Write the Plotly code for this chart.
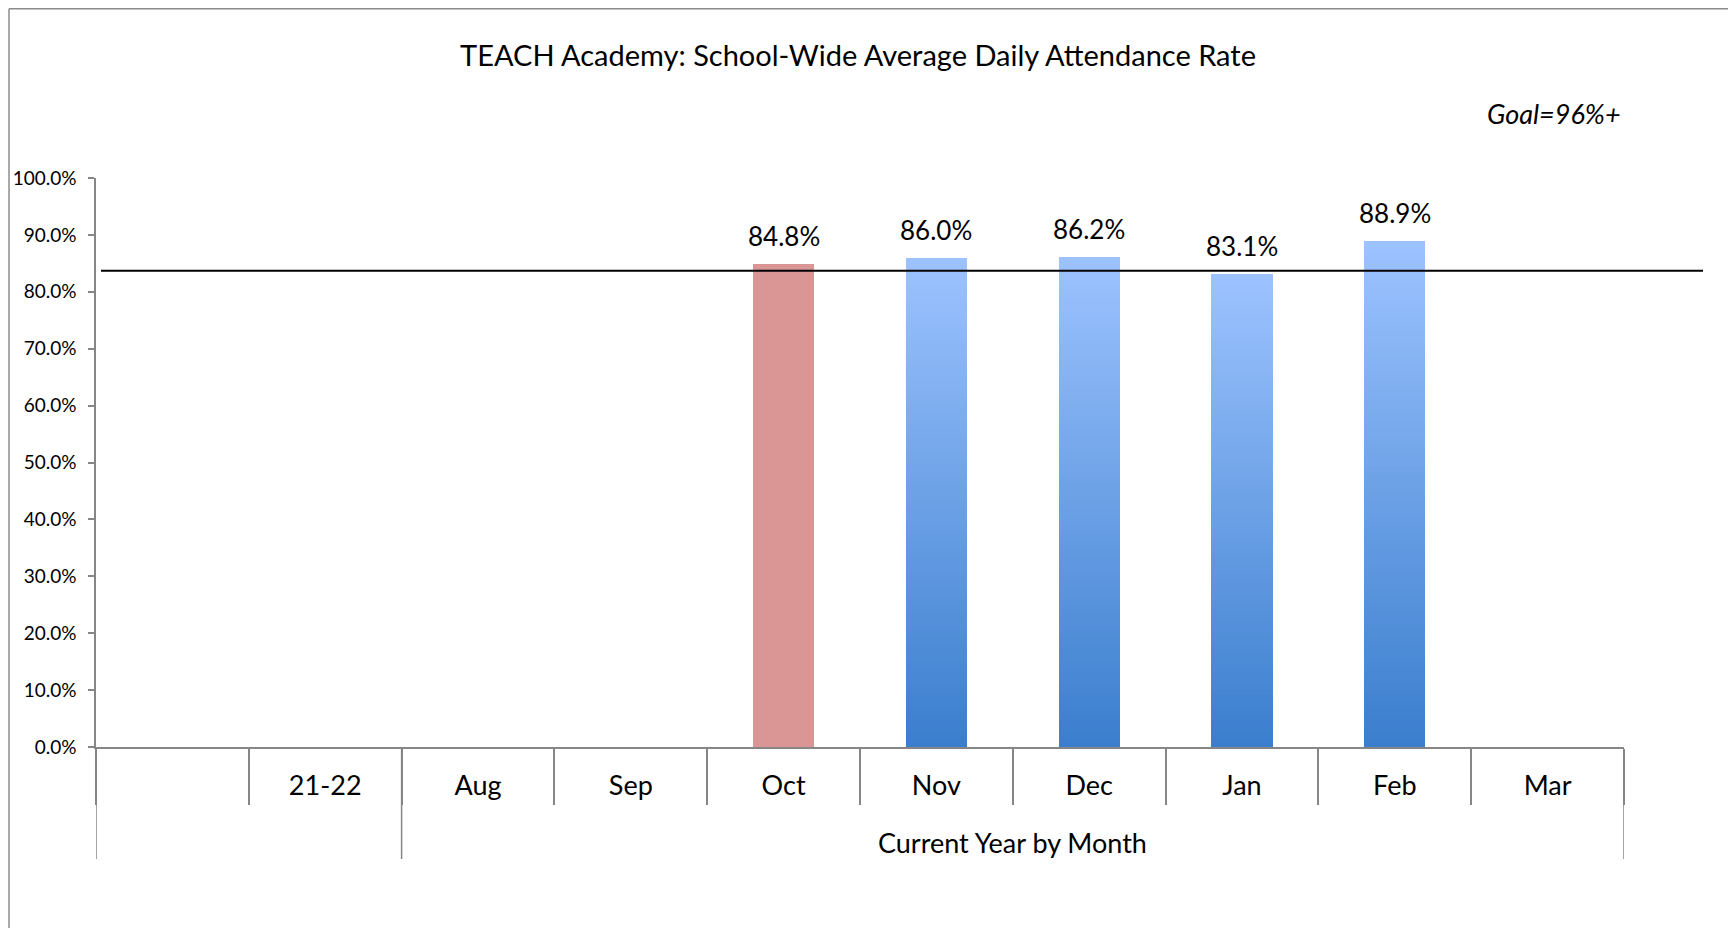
import plotly.graph_objects as go

# ---------------- data ----------------
categories = [" ", "21-22", "Aug", "Sep", "Oct", "Nov", "Dec", "Jan", "Feb", "Mar"]
attendance = [None, None, None, None, 84.8, 86.0, 86.2, 83.1, 88.9, None]
highlight = ["Oct"]
group_labels = ["", "Current Year by Month"]
group_spans = [(0, 1), (2, 9)]          # first / last category index of each group
reference_line = 83.7
y_ticks = [0, 10, 20, 30, 40, 50, 60, 70, 80, 90, 100]
title_text = "TEACH Academy: School-Wide Average Daily Attendance Rate"
goal_text = "Goal=96%+"

# ---------------- style ----------------
FONT = "Lato"
OFF = 8                      # page body margin
W, H = 1736, 928
ML, MT = 96 - OFF, 178 - OFF
PW, PH = 1528, 569
MR, MB = W - ML - PW, H - MT - PH
AXIS_GRAY = "#868686"
RED = "#D99694"
BLUE_BOTTOM = (58, 126, 205)
BLUE_TOP = (157, 195, 255)
BAR_W = 0.4
N_SEG = 90


def px_x(px):
    """page pixel x -> paper fraction"""
    return (px - OFF - ML) / PW


def px_y(py):
    """page pixel y -> paper fraction"""
    return (MT + PH - (py - OFF)) / PH


def mix(c0, c1, t):
    return "rgb(%d,%d,%d)" % tuple(round(a + (b - a) * t) for a, b in zip(c0, c1))


fig = go.Figure()

# gradient bars (stacked slices)
for k in range(N_SEG):
    ys, bases = [], []
    for c, v in zip(categories, attendance):
        if v is None or c in highlight:
            ys.append(None)
            bases.append(None)
        else:
            ys.append(v / N_SEG)
            bases.append(v * k / N_SEG)
    fig.add_trace(go.Bar(
        x=categories, y=ys, base=bases, width=BAR_W,
        marker=dict(color=mix(BLUE_BOTTOM, BLUE_TOP, (k + 0.5) / N_SEG), line=dict(width=0)),
        showlegend=False, hoverinfo="skip",
    ))

# highlighted bar
fig.add_trace(go.Bar(
    x=categories,
    y=[v if c in highlight else None for c, v in zip(categories, attendance)],
    width=BAR_W, marker=dict(color=RED, line=dict(width=0)),
    showlegend=False, hoverinfo="skip",
))

annotations = []
for i, (c, v) in enumerate(zip(categories, attendance)):
    if v is None:
        continue
    annotations.append(dict(
        x=i, y=v, xref="x", yref="y", text=f"{v:.1f}%", showarrow=False,
        yanchor="middle", yshift=28, font=dict(family=FONT, size=26, color="black"),
    ))

for label, (a, b) in zip(group_labels, group_spans):
    if label:
        annotations.append(dict(
            x=(a + b) / 2, y=px_y(842), xref="x", yref="paper", text=label,
            showarrow=False, yanchor="middle", font=dict(family=FONT, size=27, color="black"),
        ))

annotations.append(dict(
    x=px_x(1623), y=px_y(114), xref="paper", yref="paper", text=f"<i>{goal_text}</i>",
    showarrow=False, xanchor="right", yanchor="middle",
    font=dict(family=FONT, size=27, color="black"),
))

shapes = []
# group dividers
bounds = sorted({a - 0.5 for a, b in group_spans} | {b + 0.5 for a, b in group_spans})
for bx in bounds:
    shapes.append(dict(type="line", xref="x", yref="paper", x0=bx, x1=bx,
                       y0=0, y1=px_y(859), line=dict(color=AXIS_GRAY, width=1.5)))
# reference line
shapes.append(dict(type="line", xref="paper", yref="y", x0=px_x(101), x1=px_x(1703),
                   y0=reference_line, y1=reference_line, line=dict(color="black", width=2)))
# chart frame
shapes.append(dict(type="line", xref="paper", yref="paper", x0=px_x(9), x1=px_x(9),
                   y0=px_y(8.8), y1=px_y(940), line=dict(color="#8c8c8c", width=1.5)))
shapes.append(dict(type="line", xref="paper", yref="paper", x0=px_x(9), x1=px_x(1750),
                   y0=px_y(8.8), y1=px_y(8.8), line=dict(color="#8c8c8c", width=1.5)))

fig.update_layout(
    width=W, height=H,
    margin=dict(l=ML, r=MR, t=MT, b=MB, autoexpand=False),
    paper_bgcolor="white", plot_bgcolor="white",
    barmode="overlay", bargap=0,
    showlegend=False,
    title=dict(text=title_text, x=px_x(858), xref="paper", xanchor="center",
               y=1 - (56 - OFF) / H, yref="container", yanchor="middle",
               font=dict(family=FONT, size=29, color="black")),
    xaxis=dict(
        type="category", categoryorder="array", categoryarray=categories,
        range=[-0.5, len(categories) - 0.5], automargin=False,
        tickson="boundaries", ticks="outside", ticklen=56, tickwidth=1.5, tickcolor=AXIS_GRAY,
        showline=True, linecolor=AXIS_GRAY, linewidth=1.5, showgrid=False,
        ticklabelstandoff=14, tickfont=dict(family=FONT, size=27, color="black"),
        fixedrange=True,
    ),
    yaxis=dict(
        range=[0, 100], tickvals=y_ticks, ticktext=[f"{t:.1f}%" for t in y_ticks],
        automargin=False,
        ticks="outside", ticklen=6, tickwidth=1.5, tickcolor=AXIS_GRAY,
        showline=True, linecolor=AXIS_GRAY, linewidth=1.5,
        showgrid=False, zeroline=False, ticklabelstandoff=8,
        tickfont=dict(family=FONT, size=19, color="black"),
        fixedrange=True,
    ),
    annotations=annotations,
    shapes=shapes,
)

fig.write_html("out.html")
